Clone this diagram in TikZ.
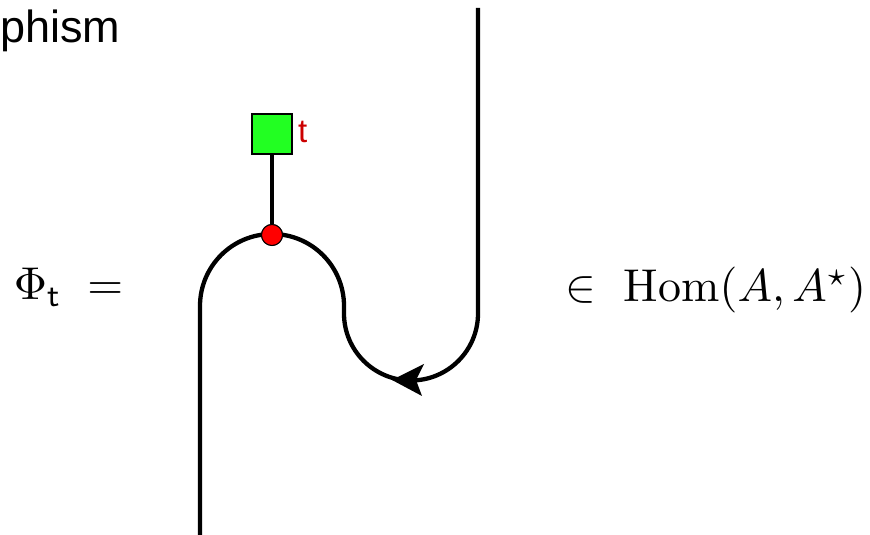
\documentclass[tikz,border=0pt]{standalone}
\usepackage{fontspec}
\newfontfamily\arialf{Liberation Sans}
\usetikzlibrary{arrows.meta}
\definecolor{boxgreen}{RGB}{34,255,34}
\definecolor{tred}{RGB}{204,0,0}
\tikzset{
  wire/.style={line width=4.3pt, line join=round},
  dot/.style={circle, fill=red, draw=black, line width=1pt, minimum size=21pt, inner sep=0pt},
  box/.style={rectangle, fill=boxgreen, draw=black, line width=1.5pt, minimum size=40pt, inner sep=0pt},
  arrowhead/.style={fill=black}
}
\begin{document}
\begin{tikzpicture}[x=1pt,y=1pt]
\useasboundingbox (0,0) rectangle (870,535);
% coordinates
\coordinate (top) at (478,527);
\coordinate (bot) at (200,0);
% wire
\draw[wire] (top) -- (478,221.5) arc (0:-180:67) -- (344,229) arc (0:180:72) -- (bot);
% arrowhead
\coordinate (tip) at (392,155);
\fill[arrowhead] (tip) -- (424,171) -- (416,155) -- (422,139) -- cycle;
% box and dot
\node[box] (sq) at (272,401) {};
\node[dot] (rd) at (272,300) {};
\draw[wire] (sq.south) -- (rd.north);
\node[dot] at (272,300) {};
\node[anchor=base west, text=tred, inner sep=0pt, font=\arialf\fontsize{33}{36}\selectfont] (tl) at (298,392) {t};
% texts
\node[anchor=base west, inner sep=0pt, font=\arialf\fontsize{45}{50}\selectfont] (title) at (0,492) {phism};
\node[anchor=base west, inner sep=0pt, scale=4.6] (phi) at (13,235) {$\Phi_{\mathsf t}\;=$};
\node[anchor=base east, inner sep=0pt, scale=4.6] (hom) at (867,233) {$\in\ \mathrm{Hom}(A,A^\star)$};
\end{tikzpicture}
\end{document}
